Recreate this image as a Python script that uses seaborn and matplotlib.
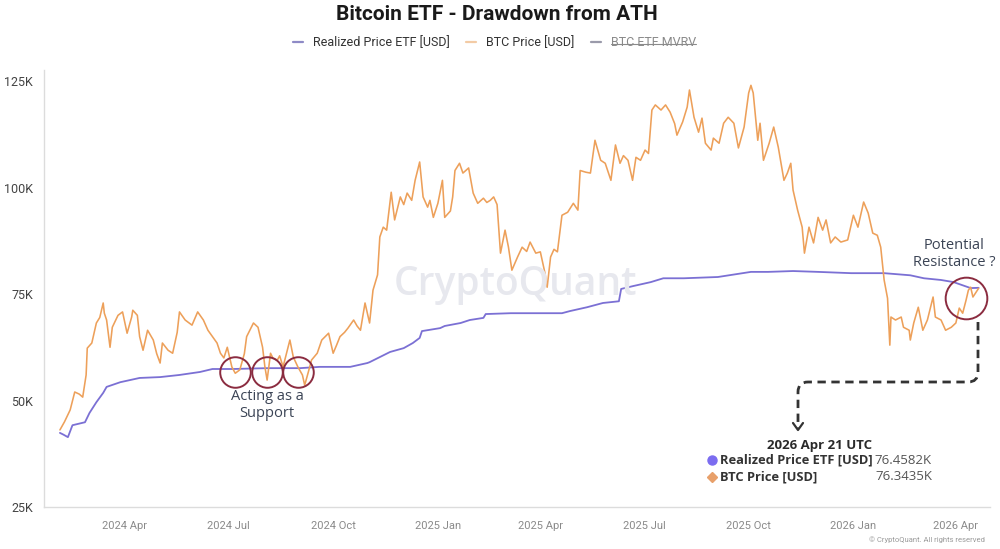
import matplotlib
matplotlib.use("Agg")
import numpy as np
import pandas as pd
import matplotlib.pyplot as plt
import matplotlib.dates as mdates
from matplotlib.lines import Line2D
from matplotlib.path import Path
from matplotlib.patches import PathPatch
import seaborn as sns

# ---------------- data (values in thousands of USD) ----------------
btc_dates = [
    "2024-02-04", "2024-02-08", "2024-02-13", "2024-02-17", "2024-02-21", "2024-02-24", "2024-02-27", "2024-02-28",
    "2024-03-03", "2024-03-07", "2024-03-10", "2024-03-13", "2024-03-14", "2024-03-16", "2024-03-19", "2024-03-21",
    "2024-03-26", "2024-03-30", "2024-04-03", "2024-04-07", "2024-04-08", "2024-04-12", "2024-04-14", "2024-04-17",
    "2024-04-21", "2024-04-26", "2024-04-29", "2024-05-02", "2024-05-04", "2024-05-09", "2024-05-13", "2024-05-17",
    "2024-05-19", "2024-05-24", "2024-05-30", "2024-06-04", "2024-06-09", "2024-06-13", "2024-06-17", "2024-06-21",
    "2024-06-24", "2024-06-27", "2024-06-30", "2024-07-04", "2024-07-07", "2024-07-11", "2024-07-15", "2024-07-17",
    "2024-07-23", "2024-07-27", "2024-07-31", "2024-08-02", "2024-08-04", "2024-08-07", "2024-08-09", "2024-08-13",
    "2024-08-15", "2024-08-18", "2024-08-21", "2024-08-24", "2024-08-27", "2024-08-31", "2024-09-04", "2024-09-06",
    "2024-09-09", "2024-09-12", "2024-09-17", "2024-09-21", "2024-09-27", "2024-10-01", "2024-10-04", "2024-10-07",
    "2024-10-11", "2024-10-14", "2024-10-19", "2024-10-22", "2024-10-25", "2024-10-29", "2024-11-02", "2024-11-05",
    "2024-11-09", "2024-11-11", "2024-11-14", "2024-11-17", "2024-11-21", "2024-11-24", "2024-11-29", "2024-12-02",
    "2024-12-05", "2024-12-09", "2024-12-12", "2024-12-16", "2024-12-19", "2024-12-23", "2024-12-25", "2024-12-28",
    "2025-01-01", "2025-01-05", "2025-01-07", "2025-01-12", "2025-01-14", "2025-01-16", "2025-01-20", "2025-01-23",
    "2025-01-28", "2025-02-01", "2025-02-05", "2025-02-10", "2025-02-13", "2025-02-16", "2025-02-19", "2025-02-22",
    "2025-02-25", "2025-03-01", "2025-03-04", "2025-03-07", "2025-03-12", "2025-03-16", "2025-03-20", "2025-03-23",
    "2025-03-28", "2025-04-01", "2025-04-05", "2025-04-07", "2025-04-10", "2025-04-13", "2025-04-16", "2025-04-20",
    "2025-04-25", "2025-04-30", "2025-05-04", "2025-05-06", "2025-05-11", "2025-05-15", "2025-05-19", "2025-05-24",
    "2025-05-28", "2025-06-02", "2025-06-06", "2025-06-10", "2025-06-13", "2025-06-17", "2025-06-21", "2025-06-24",
    "2025-06-28", "2025-07-02", "2025-07-05", "2025-07-08", "2025-07-11", "2025-07-16", "2025-07-20", "2025-07-24",
    "2025-07-28", "2025-07-30", "2025-08-04", "2025-08-08", "2025-08-10", "2025-08-14", "2025-08-18", "2025-08-21",
    "2025-08-24", "2025-08-29", "2025-08-31", "2025-09-05", "2025-09-09", "2025-09-13", "2025-09-18", "2025-09-22",
    "2025-09-27", "2025-10-01", "2025-10-03", "2025-10-05", "2025-10-09", "2025-10-11", "2025-10-14", "2025-10-19",
    "2025-10-23", "2025-10-27", "2025-11-01", "2025-11-04", "2025-11-07", "2025-11-09", "2025-11-13", "2025-11-17",
    "2025-11-19", "2025-11-23", "2025-11-27", "2025-12-01", "2025-12-05", "2025-12-08", "2025-12-12", "2025-12-16",
    "2025-12-21", "2025-12-27", "2026-01-01", "2026-01-05", "2026-01-10", "2026-01-14", "2026-01-18", "2026-01-22",
    "2026-01-25", "2026-01-28", "2026-01-31", "2026-02-02", "2026-02-03", "2026-02-07", "2026-02-12", "2026-02-14",
    "2026-02-19", "2026-02-20", "2026-02-23", "2026-02-27", "2026-03-03", "2026-03-07", "2026-03-12", "2026-03-14",
    "2026-03-19", "2026-03-23", "2026-03-28", "2026-04-01", "2026-04-04", "2026-04-07", "2026-04-10", "2026-04-12",
    "2026-04-14", "2026-04-16", "2026-04-21",
]
btc_values = [
    43.1, 45.0, 47.8, 52.0, 51.5, 50.8, 56.0, 62.3,
    63.5, 68.2, 69.5, 72.9, 70.5, 68.9, 62.5, 67.2,
    70.0, 70.8, 65.8, 69.6, 71.2, 70.0, 65.0, 61.8,
    66.5, 64.2, 61.0, 58.8, 63.5, 61.8, 61.1, 66.0,
    70.8, 68.9, 67.7, 70.8, 68.9, 66.5, 65.0, 63.5,
    61.1, 60.0, 62.5, 57.9, 56.4, 57.2, 61.0, 65.0,
    68.2, 67.2, 62.5, 58.0, 54.8, 61.1, 60.0, 59.5,
    60.5, 57.9, 61.0, 64.2, 60.2, 57.9, 56.0, 53.6,
    56.5, 59.5, 61.1, 64.2, 65.8, 61.1, 63.0, 65.0,
    66.0, 67.0, 68.9, 67.5, 66.5, 72.9, 68.2, 75.9,
    79.5, 88.4, 90.7, 90.0, 98.9, 92.4, 97.8, 96.0,
    98.7, 97.0, 101.7, 106.0, 97.8, 95.4, 97.0, 93.0,
    96.3, 101.7, 93.0, 94.5, 97.8, 104.0, 105.7, 103.4,
    104.6, 98.7, 96.3, 97.5, 96.5, 97.0, 97.8, 96.0,
    84.6, 90.0, 86.0, 80.6, 83.7, 86.0, 85.0, 87.2,
    84.6, 84.9, 80.0, 76.6, 83.7, 85.5, 84.9, 93.5,
    94.2, 96.3, 94.7, 104.0, 103.6, 103.4, 111.1, 106.4,
    105.7, 101.7, 110.0, 105.7, 107.5, 106.4, 101.7, 107.1,
    106.4, 108.8, 108.0, 118.2, 119.4, 118.2, 119.4, 117.7,
    115.0, 112.3, 115.4, 118.9, 122.9, 116.5, 113.0, 116.3,
    110.4, 108.8, 111.6, 110.4, 115.1, 116.5, 115.1, 109.3,
    114.2, 122.2, 124.0, 122.2, 111.1, 115.1, 106.4, 110.4,
    114.2, 109.5, 101.7, 103.4, 105.7, 99.4, 94.7, 90.7,
    84.6, 90.7, 87.0, 93.0, 90.0, 92.4, 87.0, 88.4,
    87.2, 87.7, 93.5, 90.7, 96.6, 94.0, 89.3, 88.8,
    86.0, 78.3, 74.0, 63.0, 69.6, 68.9, 69.6, 67.2,
    66.5, 64.2, 68.2, 71.9, 66.5, 68.9, 74.3, 69.6,
    68.9, 66.5, 67.2, 68.2, 71.7, 70.5, 73.6, 75.9,
    76.6, 74.3, 76.3435,
]

realized_dates = [
    "2024-02-04", "2024-02-07", "2024-02-11", "2024-02-15", "2024-02-26", "2024-03-01", "2024-03-07", "2024-03-13",
    "2024-03-16", "2024-03-28", "2024-04-14", "2024-05-02", "2024-05-19", "2024-06-06", "2024-06-17", "2024-07-05",
    "2024-08-04", "2024-09-02", "2024-09-19", "2024-10-16", "2024-10-31", "2024-11-02", "2024-11-11", "2024-11-20",
    "2024-12-02", "2024-12-10", "2024-12-16", "2024-12-18", "2025-01-03", "2025-01-07", "2025-01-21", "2025-01-29",
    "2025-02-10", "2025-02-12", "2025-03-06", "2025-03-29", "2025-04-20", "2025-04-27", "2025-05-12", "2025-05-26",
    "2025-06-09", "2025-06-11", "2025-06-22", "2025-07-07", "2025-07-18", "2025-08-05", "2025-09-04", "2025-10-03",
    "2025-10-18", "2025-11-09", "2025-12-01", "2025-12-30", "2026-01-28", "2026-02-20", "2026-03-04", "2026-03-19",
    "2026-03-30", "2026-04-14", "2026-04-21",
]
realized_values = [
    42.4, 42.0, 41.4, 44.2, 44.9, 47.1, 49.6, 51.8,
    53.2, 54.3, 55.3, 55.5, 56.0, 56.7, 57.4, 57.4,
    57.6, 57.6, 57.9, 57.9, 58.8, 59.0, 60.2, 61.4,
    62.3, 63.5, 64.7, 66.3, 67.0, 67.5, 68.2, 68.9,
    69.4, 70.3, 70.5, 70.5, 70.5, 71.0, 71.9, 72.9,
    73.3, 76.2, 76.9, 77.8, 78.7, 78.7, 79.0, 80.2,
    80.2, 80.4, 80.2, 79.9, 79.9, 79.4, 78.7, 78.3,
    77.8, 76.4, 76.4582,
]

y_ticks = [25, 50, 75, 100, 125]
y_tick_labels = ["25K", "50K", "75K", "100K", "125K"]
series_names = ["Realized Price ETF [USD]", "BTC Price [USD]", "BTC ETF MVRV"]
tooltip_date = "2026 Apr 21 UTC"
tooltip_values = ["76.4582K", "76.3435K"]

# annotation anchors (data space)
support_dates = ["2024-07-07", "2024-08-04", "2024-08-31"]
support_level = 56.7
resistance_date = "2026-04-10"
resistance_level = 74.0

assert len(btc_dates) == len(btc_values)
assert len(realized_dates) == len(realized_values)

df_btc = pd.DataFrame({"date": pd.to_datetime(btc_dates), "value": btc_values})
df_real = pd.DataFrame({"date": pd.to_datetime(realized_dates), "value": realized_values})

# ---------------- style ----------------
sns.set_theme(style="white")
plt.rcParams["font.family"] = ["Roboto", "DejaVu Sans"]

C_REAL = "#7B70D4"
C_BTC = "#EDA05A"
C_CIRCLE = "#8B2C40"

W, H = 1000, 549
def F(x, y):
    return (x / W, 1 - y / H)

fig = plt.figure(figsize=(10, 5.49), dpi=100)
ax = fig.add_axes([0.044, 0.0765, 0.946, 0.796])

# watermark
fig.text(*F(515, 285), "CryptoQuant", ha="center", va="center", fontsize=28,
         fontweight="semibold", color="#E7E8EE", family=["Open Sans", "DejaVu Sans"], zorder=0)

sns.lineplot(data=df_real, x="date", y="value", color=C_REAL, lw=1.3, ax=ax, zorder=3)
sns.lineplot(data=df_btc, x="date", y="value", color=C_BTC, lw=1.15, ax=ax, zorder=4)

ax.set_xlim(pd.Timestamp("2024-01-21"), pd.Timestamp("2026-05-01"))
ax.set_ylim(25, 127.6)
ax.set_yticks(y_ticks)
ax.set_yticklabels(y_tick_labels)
ax.xaxis.set_major_locator(mdates.MonthLocator(bymonth=[1, 4, 7, 10]))
ax.xaxis.set_major_formatter(mdates.DateFormatter("%Y %b"))
ax.set_xlabel("")
ax.set_ylabel("")
ax.patch.set_alpha(0)

ax.tick_params(axis="x", length=4, width=0.8, color="#d6d6d6", labelsize=8,
               labelcolor="#8a8a8a", pad=6)
ax.tick_params(axis="y", length=0, labelsize=9, labelcolor="#444444", pad=8)
for s in ["top", "right"]:
    ax.spines[s].set_visible(False)
for s in ["left", "bottom"]:
    ax.spines[s].set_color("#dcdcdc")
    ax.spines[s].set_linewidth(1.0)

# support / resistance circles
ax.plot(pd.to_datetime(support_dates), [support_level] * len(support_dates), ls="none",
        marker="o", ms=22, mfc="none", mec=C_CIRCLE, mew=1.4, zorder=5)
ax.plot(pd.to_datetime([resistance_date]), [resistance_level], ls="none",
        marker="o", ms=30, mfc="none", mec=C_CIRCLE, mew=1.4, zorder=5, clip_on=False)

ann_font = ["Open Sans", "DejaVu Sans"]
fig.text(*F(267, 405), "Acting as a\nSupport", ha="center", va="center", fontsize=10.5,
         color="#3B4455", family=ann_font, linespacing=1.2)
fig.text(*F(954, 254), "Potential\nResistance ?", ha="center", va="center", fontsize=10.5,
         color="#3B4455", family=ann_font, linespacing=1.2)

# dashed connector
pts = [F(978, 322), F(978, 372), F(978, 382), F(968, 382), F(808, 382),
       F(798, 382), F(798, 392), F(798, 428)]
codes = [Path.MOVETO, Path.LINETO, Path.CURVE3, Path.CURVE3, Path.LINETO,
         Path.CURVE3, Path.CURVE3, Path.LINETO]
fig.add_artist(PathPatch(Path(pts, codes), transform=fig.transFigure, fill=False,
                         edgecolor="#333333", lw=2.0, linestyle=(0, (3, 2))))
fig.add_artist(Line2D([F(793, 423)[0], F(798, 430)[0], F(803, 423)[0]],
                      [F(793, 423)[1], F(798, 430)[1], F(803, 423)[1]],
                      transform=fig.transFigure, color="#333333", lw=1.6))

# tooltip
tip_font = ["Open Sans", "DejaVu Sans"]
fig.text(*F(820, 445), tooltip_date, ha="center", va="center", fontsize=9.5,
         fontweight="bold", color="#2a2a2a", family=tip_font)
fig.add_artist(Line2D([F(712, 460)[0]], [F(712, 460)[1]], transform=fig.transFigure,
                      marker="o", ms=6.5, color="#7B6CF0", ls="none"))
fig.add_artist(Line2D([F(712, 477)[0]], [F(712, 477)[1]], transform=fig.transFigure,
                      marker="D", ms=5, color="#E8A06A", ls="none"))
fig.text(*F(720, 460), series_names[0], ha="left", va="center", fontsize=9.3,
         fontweight="bold", color="#333333", family=tip_font)
fig.text(*F(720, 477), series_names[1], ha="left", va="center", fontsize=9.3,
         fontweight="bold", color="#333333", family=tip_font)
fig.text(*F(932, 460), tooltip_values[0], ha="right", va="center", fontsize=9.5,
         color="#555555", family=tip_font)
fig.text(*F(932, 477), tooltip_values[1], ha="right", va="center", fontsize=9.5,
         color="#555555", family=tip_font)

fig.text(*F(985, 540), "\u00a9 CryptoQuant. All rights reserved", ha="right", va="center",
         fontsize=5.5, color="#9a9a9a")

# title and legend
fig.text(0.497, F(0, 15)[1], "Bitcoin ETF - Drawdown from ATH", ha="center", va="center",
         fontsize=15, fontweight="bold", color="#1a1a1a")
handles = [Line2D([], [], color="#8E8AC6", lw=1.6),
           Line2D([], [], color="#F3CBA5", lw=1.6),
           Line2D([], [], color="#9a9aaa", lw=1.6)]
leg = fig.legend(handles, series_names, loc="center", bbox_to_anchor=(0.4945, F(0, 43)[1]),
                 ncol=3, frameon=False, fontsize=9, handlelength=0.8, handletextpad=0.8,
                 columnspacing=1.3)
for t in leg.get_texts()[:2]:
    t.set_color("#333333")
leg.get_texts()[2].set_color("#8a8a8a")

fig.canvas.draw()
renderer = fig.canvas.get_renderer()
bb = leg.get_texts()[2].get_window_extent(renderer).transformed(fig.transFigure.inverted())
ym = bb.y0 + 0.45 * bb.height
fig.add_artist(Line2D([bb.x0, bb.x1], [ym, ym], transform=fig.transFigure,
                      color="#8a8a8a", lw=0.8))

fig.savefig("out.png", dpi=100)
